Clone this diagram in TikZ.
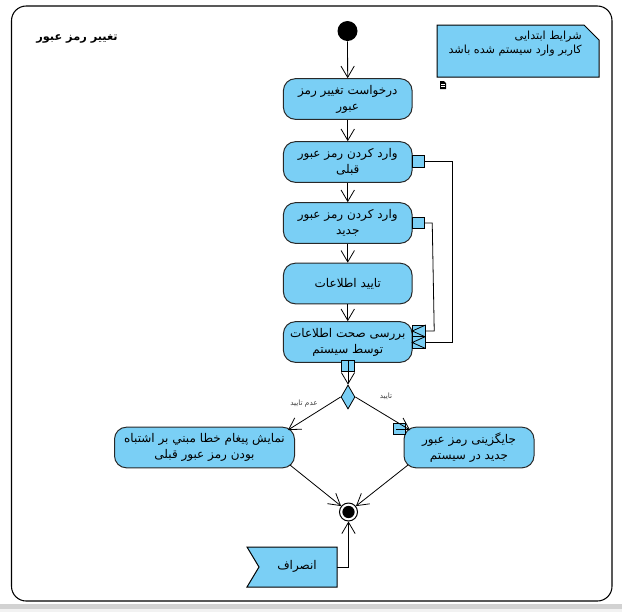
\documentclass[tikz,border=0pt]{standalone}
\usepackage{fontspec}
\setmainfont{DejaVu Sans}
\newfontfamily\arabicfont[Script=Arabic]{DejaVu Sans}
\TeXXeTstate=1
\usetikzlibrary{shapes.geometric,arrows.meta,calc}
\definecolor{actblue}{RGB}{122,207,245}
\definecolor{edge}{RGB}{40,40,40}
\newcommand{\fa}[1]{{\arabicfont\beginR #1\endR}}
\begin{document}
\begin{tikzpicture}[x=0.75pt,y=-0.75pt,
  act/.style={draw=edge, fill=actblue, rounded corners=9pt, minimum width=96.5pt,
    minimum height=30.5pt, align=center, inner sep=1pt, line width=0.75pt,
    font=\arabicfont\fontsize{9}{12}\selectfont},
  pinbox/.style={draw=black, fill=actblue, minimum width=9.5pt, minimum height=8.5pt,
    inner sep=0pt, line width=0.6pt},
  flow/.style={draw=black, line width=0.6pt, -{Straight Barb[length=8.5pt,width=10pt,line width=0.6pt]}},
  objline/.style={draw=black, line width=0.6pt},
  guard/.style={text=black!75, font=\arabicfont\fontsize{5.5}{6}\selectfont, inner sep=0pt},
]
\useasboundingbox (0,0) rectangle (622,612);
\fill[white] (0,0) rectangle (622,612);
% bottom band
\fill[gray!35] (0,603.5) rectangle (622,608.5);
\fill[gray!10] (0,608.5) rectangle (622,612);
% frame
\draw[black, line width=0.8pt, rounded corners=11pt] (11.5,6) rectangle (612,601);
% title
\node[font=\arabicfont\bfseries\fontsize{8.5}{10}\selectfont, inner sep=0pt] (title) at (77,39) {\fa{تغییر رمز عبور}};

% note
\draw[fill=actblue, draw=black, line width=0.75pt] (437,25) -- (584,25) -- (599,40) -- (599,77) -- (437,77) -- cycle;
\node[anchor=east, align=right, inner sep=0pt, font=\arabicfont\fontsize{8.4}{10.5}\selectfont] (notetext) at (582,43.5) {\fa{شرایط ابتدایی}\\\fa{کاربر وارد سیستم شده باشد}};
% document icon
\fill[black] (440,81) -- (444,81) -- (446,83) -- (446,89) -- (440,89) -- cycle;
\draw[white, line width=0.4pt] (441,84.5) -- (445,84.5) (441,86.5) -- (445,86.5);

% initial node
\node[circle, fill=black, minimum size=15pt, inner sep=0pt] (init) at (347.5,31) {};

% actions
\node[act] (a1) at (347.75,99) {\fa{درخواست تغییر رمز}\\\fa{عبور}};
\node[act] (a2) at (347.75,162) {\fa{وارد کردن رمز عبور}\\\fa{قبلی}};
\node[act] (a3) at (347.75,223) {\fa{وارد کردن رمز عبور}\\\fa{جدید}};
\node[act] (a4) at (347.75,283.5) {\fa{تایید اطلاعات}};
\node[act] (a5) at (347.75,342) {\fa{بررسی صحت اطلاعات}\\\fa{توسط سیستم}};

% pins
\node[pinbox] (p2) at (418.5,161.5) {};
\node[pinbox] (p3) at (418.5,223) {};
\node[pinbox] (p5a) at (419,331) {};
\node[pinbox] (p5b) at (419,342.5) {};
\node[pinbox] (p5c) at (348,366) {};

% decision
\node[diamond, draw=black, fill=actblue, line width=0.6pt, minimum width=10.5pt, minimum height=18pt, inner sep=0pt] (dec) at (348,397) {};

% lower actions
\node[act, minimum width=135pt] (errmsg) at (204.5,447.5) {\fa{نمایش پیغام خطا مبني بر اشتباه}\\\fa{بودن رمز عبور قبلی}};
\node[act, minimum width=97.5pt] (replace) at (469,447.5) {\fa{جایگزینی رمز عبور}\\\fa{جدید در سیستم}};
\node[pinbox] (pr) at (399.5,429) {};

% final node
\node[circle, draw=black, fill=white, line width=0.75pt, minimum size=13.5pt, inner sep=0pt,
  path picture={\fill[black] (path picture bounding box.center) circle (4.6pt);}] (fin) at (348.5,512) {};

% accept event
\draw[fill=actblue, draw=black, line width=0.75pt] (247,547) -- (337,547) -- (337,587) -- (247,587) -- (259,567) -- cycle;
\node[font=\arabicfont\fontsize{9}{11}\selectfont, inner sep=0pt] (cancel) at (297,566) {\fa{انصراف}};
\coordinate (cancelout) at (337,567);

% control flows
\draw[flow] (init) -- (a1);
\draw[flow] (a1) -- (a2);
\draw[flow] (a2) -- (a3);
\draw[flow] (a3) -- (a4);
\draw[flow] (a4) -- (a5);

% object flows into pins
\draw[objline] (p2.east) -- ++(27,0) |- (p5b.east);
\draw[objline] (p3.east) -- ++(7,0) -- ($(p5a.east)+(8.5,0)$) -- (p5a.east);
\draw[objline] (p5a.north east) -- (p5a.west) -- (p5a.south east);
\draw[objline] (p5b.north east) -- (p5b.west) -- (p5b.south east);

% to decision
\draw[flow] (p5c.north) -- (dec.north);

% branches
\coordinate (errin) at (288,430);
\coordinate (repin) at (410,430);
\draw[flow] (dec.west) -- (errin);
\draw[flow] (dec.east) -- (repin);
\node[guard] (gno) at (304,404) {\fa{عدم تایید}};
\node[guard] (gyes) at (386,396) {\fa{تایید}};

% to final
\coordinate (errout) at (290,465);
\coordinate (repout) at (408,465);
\draw[flow] (errout) -- (fin);
\draw[flow] (repout) -- (fin);
\draw[flow] (cancelout) -| (fin.south);
\end{tikzpicture}
\end{document}
